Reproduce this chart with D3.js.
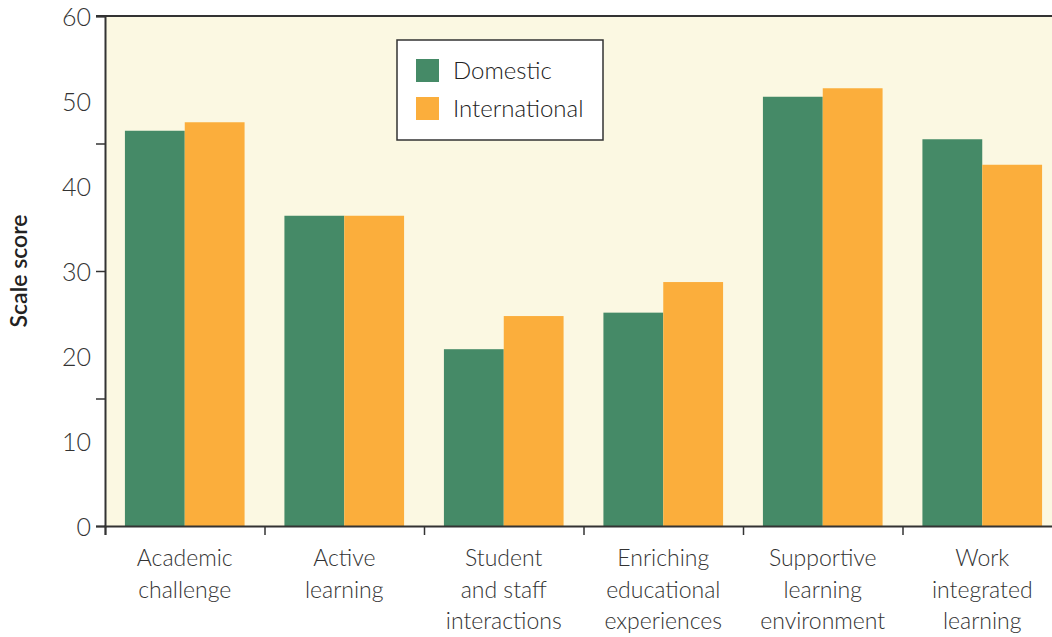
<!DOCTYPE html>
<html>
<head>
<meta charset="utf-8">
<script src="https://cdn.jsdelivr.net/npm/d3@7"></script>
<style>
  body { margin: 0; background: #fff; }
  text { font-family: Lato, "Open Sans", sans-serif; fill: #333; }
</style>
</head>
<body>
<div id="chart"></div>
<script>
// chart data
var categories = ["Academic challenge", "Active learning", "Student and staff interactions",
                  "Enriching educational experiences", "Supportive learning environment", "Work integrated learning"];
var categoryLines = [["Academic", "challenge"], ["Active", "learning"], ["Student", "and staff", "interactions"],
                     ["Enriching", "educational", "experiences"], ["Supportive", "learning", "environment"],
                     ["Work", "integrated", "learning"]];
var series = ["Domestic", "International"];
var domestic = [46.5, 36.5, 20.8, 25.1, 50.5, 45.5];
var international = [47.5, 36.5, 24.7, 28.7, 51.5, 42.5];
var yLabels = [0, 10, 20, 30, 40, 50, 60];
var yTicks = [0, 15, 30, 45, 60];

var colors = {"Domestic": "#458a67", "International": "#fbae3c"};

var margin = {top: 16, right: -10, bottom: 111, left: 105},
  width = 1052 - margin.left - margin.right,
  height = 637 - margin.top - margin.bottom;

var svg = d3.select("#chart")
  .append("svg")
    .attr("width", 1052)
    .attr("height", 637)
  .append("g")
    .attr("transform", "translate(" + margin.left + "," + margin.top + ")");

var x = d3.scaleBand()
  .range([0, width])
  .domain(categories)
  .padding(0);

var x1 = d3.scaleBand()
  .range([0, x.bandwidth()])
  .domain(series)
  .paddingInner(0)
  .paddingOuter(0.333);

var y = d3.scaleLinear()
  .range([height, 0])
  .domain([0, 60]);

// background
svg.append("rect")
  .attr("x", 0).attr("y", 0)
  .attr("width", width).attr("height", height)
  .style("fill", "#fbf8e2");

// bars
var rows = categories.map(function(c, i) {
  return {cat: c, values: [{key: "Domestic", value: domestic[i]}, {key: "International", value: international[i]}]};
});

svg.selectAll(".grp")
  .data(rows)
  .enter()
  .append("g")
    .attr("transform", function(d) { return "translate(" + x(d.cat) + ",0)"; })
  .selectAll("rect")
  .data(function(d) { return d.values; })
  .enter()
  .append("rect")
    .attr("x", function(d) { return x1(d.key); })
    .attr("y", function(d) { return y(d.value); })
    .attr("width", x1.bandwidth())
    .attr("height", function(d) { return height - y(d.value); })
    .style("fill", function(d) { return colors[d.key]; });

// top border
svg.append("line")
  .attr("x1", -9).attr("x2", width)
  .attr("y1", 0).attr("y2", 0)
  .style("stroke", "#333").style("stroke-width", 2);

// y axis: ticks every 15, labels every 10
var yAxis = svg.append("g")
  .call(d3.axisLeft(y).tickValues(yTicks).tickSize(9).tickFormat(""));
yAxis.select(".domain").style("stroke", "#333").style("stroke-width", 2);
yAxis.selectAll(".tick line").style("stroke", "#333").style("stroke-width", 1.5);

svg.selectAll(".ylab")
  .data(yLabels)
  .enter()
  .append("text")
    .attr("x", -14)
    .attr("y", function(d) { return y(d); })
    .attr("dy", "0.38em")
    .attr("text-anchor", "end")
    .style("font-size", "25px")
    .style("font-weight", 300)
    .text(function(d) { return d; });

// x axis
var xAxis = svg.append("g")
  .attr("transform", "translate(0," + height + ")")
  .call(d3.axisBottom(d3.scaleLinear().domain([0, categories.length]).range([0, width]))
        .tickValues(d3.range(categories.length + 1)).tickSize(9).tickFormat(""));
xAxis.select(".domain").style("stroke", "#333").style("stroke-width", 2);
xAxis.selectAll(".tick line").style("stroke", "#333").style("stroke-width", 1.5);

svg.selectAll(".xlab")
  .data(categoryLines)
  .enter()
  .append("text")
    .attr("text-anchor", "middle")
    .attr("transform", function(d, i) { return "translate(" + (x(categories[i]) + x.bandwidth() / 2) + "," + (height + 40) + ")"; })
    .style("font-size", "23px")
    .style("font-weight", 300)
  .selectAll("tspan")
  .data(function(d) { return d; })
  .enter()
  .append("tspan")
    .attr("x", 0)
    .attr("dy", function(d, i) { return i === 0 ? 0 : 31.5; })
    .text(function(d) { return d; });

// y axis title
svg.append("text")
  .attr("transform", "translate(" + (-78) + "," + (height / 2) + ") rotate(-90)")
  .attr("text-anchor", "middle")
  .style("font-size", "23px")
  .style("font-weight", 600)
  .style("fill", "#222")
  .text("Scale score");

// legend
var legend = svg.append("g")
  .attr("transform", "translate(" + (397 - margin.left) + "," + (40 - margin.top) + ")");
legend.append("rect")
  .attr("width", 206).attr("height", 100)
  .style("fill", "#fff")
  .style("stroke", "#333").style("stroke-width", 1.5);
series.forEach(function(s, i) {
  legend.append("rect")
    .attr("x", 19).attr("y", 19 + i * 38)
    .attr("width", 23).attr("height", 23)
    .style("fill", colors[s]);
  legend.append("text")
    .attr("x", 56).attr("y", 30 + i * 38)
    .attr("dy", "0.36em")
    .style("font-size", "24px")
    .style("font-weight", 300)
    .style("fill", "#222")
    .text(s);
});
</script>
</body>
</html>
